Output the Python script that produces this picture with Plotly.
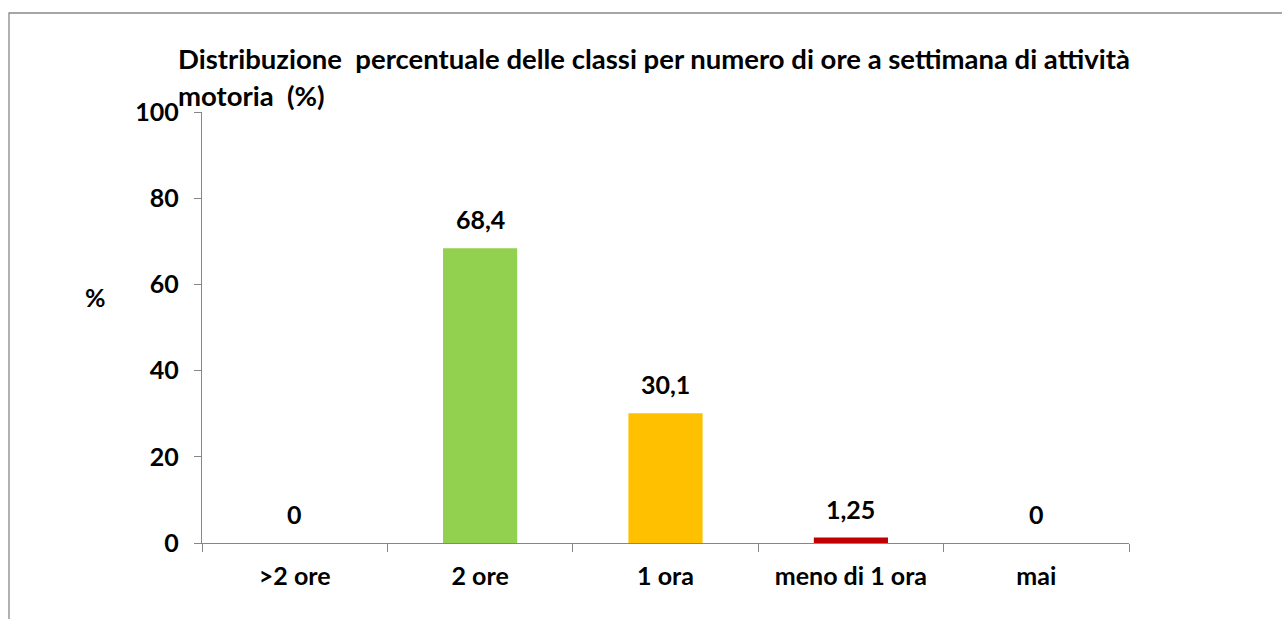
import plotly.graph_objects as go

categories = [">2 ore", "2 ore", "1 ora", "meno di 1 ora", "mai"]
values = [0, 68.4, 30.1, 1.25, 0]
bar_colors = ["#4F81BD", "#92D050", "#FFC000", "#C00000", "#4F81BD"]
title_line1 = "Distribuzione  percentuale delle classi per numero di ore a settimana di attività"
title_line2 = "motoria  (%)"
y_title = "%"
y_ticks = [0, 20, 40, 60, 80, 100]

W, H = 1282, 619
L, R, T, B = 202, 1129, 112, 543
FONT = "Lato"
FS = 25

def px(x):
    return (x - L) / (R - L)

def py(y):
    return (B - y) / (B - T)

def fmt(v):
    return f"{v:g}".replace(".", ",")

fig = go.Figure(
    go.Bar(
        x=categories,
        y=values,
        marker=dict(color=bar_colors, line=dict(width=0)),
        hoverinfo="skip",
    )
)

annotations = []
for c, v in zip(categories, values):
    annotations.append(dict(
        x=c, y=v, xref="x", yref="y", text=f"<b>{fmt(v)}</b>",
        showarrow=False, yanchor="middle", yshift=29,
        font=dict(family=FONT, size=FS, color="black"),
    ))

annotations += [
    dict(x=px(176), y=py(59), xref="paper", yref="paper", xanchor="left", yanchor="middle",
         text=f"<b>{title_line1}</b>", showarrow=False,
         font=dict(family=FONT, size=27.5, color="black")),
    dict(x=px(176), y=py(95), xref="paper", yref="paper", xanchor="left", yanchor="middle",
         text=f"<b>{title_line2}</b>", showarrow=False,
         font=dict(family=FONT, size=27.5, color="black")),
    dict(x=px(95), y=py(297), xref="paper", yref="paper", xanchor="center", yanchor="middle",
         text=f"<b>{y_title}</b>", showarrow=False,
         font=dict(family=FONT, size=FS, color="black")),
]

fig.update_layout(
    width=W, height=H,
    margin=dict(l=L, r=W - R, t=T, b=H - B, pad=0),
    paper_bgcolor="white", plot_bgcolor="white",
    showlegend=False,
    bargap=0.6,
    annotations=annotations,
    shapes=[dict(
        type="path", xref="paper", yref="paper",
        path=f"M {px(1300)} {py(13)} L {px(9)} {py(13)} L {px(9)} {py(640)}",
        line=dict(color="#898989", width=1.3),
    )],
)

fig.update_xaxes(
    showgrid=False, zeroline=False,
    showline=True, linecolor="#868686", linewidth=1.3,
    ticks="outside", tickson="boundaries", ticklen=8, tickcolor="#868686", tickwidth=1.3,
    tickfont=dict(family=FONT, size=FS, color="black"),
    tickprefix="<b>", ticksuffix="</b>",
    ticklabelstandoff=11,
)
fig.update_yaxes(
    range=[0, 100], tickvals=y_ticks, ticktext=[f"<b>{t}</b>" for t in y_ticks],
    showgrid=False, zeroline=False,
    showline=True, linecolor="#868686", linewidth=1.3,
    ticks="outside", ticklen=7, tickcolor="#868686", tickwidth=1.3,
    tickfont=dict(family=FONT, size=FS, color="black"),
    ticklabelstandoff=10,
)

fig.write_html(
    "out.html",
    config={"displayModeBar": False},
    post_script="document.body.style.margin='0';document.body.style.overflow='hidden';",
)
